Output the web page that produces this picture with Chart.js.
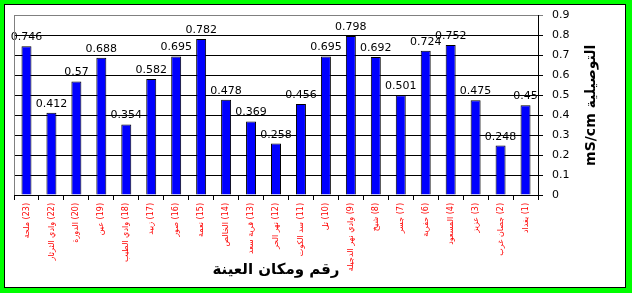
<!DOCTYPE html>
<html>
<head>
<meta charset="utf-8">
<script src="https://cdn.jsdelivr.net/npm/chart.js@4/dist/chart.umd.min.js"></script>
<style>
  html, body { margin: 0; padding: 0; background: #fff; }
  #wrap { width: 632px; height: 293px; }
</style>
</head>
<body>
<div id="wrap"><canvas id="chart" width="632" height="293" dir="rtl"></canvas></div>
<script>
// sample number + place, in display order
const categories = [
  '(23) ملحة', '(22) وادي الثرثار', '(20) الدورة', '(19) عين',
  '(18) وادي الطيب', '(17) زبيد', '(16) صور', '(15) نعمة',
  '(14) الخالص', '(13) قرية سعد', '(12) نهر الحر', '(11) سد الكوت',
  '(10) تل', '(9) وادي نهر الدجيلة', '(8) شيخ', '(7) جسر',
  '(6) حفرية', '(4) المسعود', '(3) عزيز', '(2) جصان غرب', '(1) بغداد'
];
const values = [
  0.746, 0.412, 0.57, 0.688, 0.354, 0.582, 0.695, 0.782, 0.478, 0.369, 0.258,
  0.456, 0.695, 0.798, 0.692, 0.501, 0.724, 0.752, 0.475, 0.248, 0.45
];
const yTicks = [0, 0.1, 0.2, 0.3, 0.4, 0.5, 0.6, 0.7, 0.8, 0.9];
const xTitle = 'رقم ومكان العينة';
const yTitle = 'التوصيلية mS/cm';

// green frame + white background
const framePlugin = {
  id: 'frame',
  beforeDraw(chart) {
    const ctx = chart.ctx;
    ctx.save();
    ctx.fillStyle = '#00ff00';
    ctx.fillRect(0, 0, chart.width, chart.height);
    ctx.fillStyle = '#000';
    ctx.fillRect(4, 4, chart.width - 10, chart.height - 9);
    ctx.fillStyle = '#fff';
    ctx.fillRect(5, 5, chart.width - 12, chart.height - 11);
    ctx.restore();
  },
  afterDraw(chart) {
    const ctx = chart.ctx;
    const a = chart.chartArea;
    ctx.save();
    // left plot border
    ctx.strokeStyle = '#808080';
    ctx.lineWidth = 1;
    ctx.beginPath();
    ctx.moveTo(a.left + 0.5, a.top);
    ctx.lineTo(a.left + 0.5, a.bottom);
    ctx.stroke();
    // axis titles
    ctx.fillStyle = '#000';
    ctx.font = 'bold 15px "DejaVu Sans", sans-serif';
    ctx.textAlign = 'center';
    ctx.textBaseline = 'middle';
    ctx.fillText(xTitle, (a.left + a.right) / 2, 270);
    ctx.translate(591, (a.top + a.bottom) / 2);
    ctx.rotate(-Math.PI / 2);
    ctx.font = 'bold 14px "DejaVu Sans", sans-serif';
    ctx.fillText(yTitle, 0, 0);
    ctx.restore();
  }
};

// value labels above bars
const valueLabels = {
  id: 'valueLabels',
  afterDatasetsDraw(chart) {
    const ctx = chart.ctx;
    const meta = chart.getDatasetMeta(0);
    ctx.save();
    ctx.fillStyle = '#000';
    ctx.font = '11px "DejaVu Sans", sans-serif';
    ctx.textAlign = 'center';
    ctx.textBaseline = 'alphabetic';
    meta.data.forEach((bar, i) => {
      ctx.fillText(String(values[i]), bar.x, bar.y - 6);
    });
    ctx.restore();
  }
};

new Chart(document.getElementById('chart'), {
  type: 'bar',
  data: {
    // RTL embedding so the number sits next to the axis
    labels: categories.map(s => '\u202B' + s + '\u202C'),
    datasets: [{
      data: values,
      backgroundColor: '#0000ff',
      borderColor: '#000',
      borderWidth: 1,
      barPercentage: 0.4,
      categoryPercentage: 1
    }]
  },
  options: {
    responsive: false,
    animation: false,
    devicePixelRatio: 1,
    layout: { padding: { left: 14, top: 15, right: 0, bottom: 0 } },
    plugins: {
      legend: { display: false },
      tooltip: { enabled: false }
    },
    scales: {
      x: {
        offset: true,
        grid: {
          display: true,
          offset: true,
          drawOnChartArea: false,
          drawTicks: true,
          tickLength: 5,
          color: '#000'
        },
        border: { color: '#000', width: 1 },
        ticks: {
          autoSkip: false,
          minRotation: 90,
          maxRotation: 90,
          padding: 3,
          color: '#ff0000',
          font: { family: '"DejaVu Sans", sans-serif', size: 8 }
        },
        afterFit: (s) => { s.height = 98; }
      },
      y: {
        position: 'right',
        min: 0,
        max: 0.9,
        afterBuildTicks: (s) => { s.ticks = yTicks.map(v => ({ value: v })); },
        grid: {
          color: (c) => (c.tick && c.tick.value === 0.9 ? '#808080' : '#000'),
          tickLength: 5
        },
        border: { color: '#000', width: 1 },
        ticks: {
          padding: 9,
          color: '#000',
          font: { family: '"DejaVu Sans", sans-serif', size: 11 },
          callback: (v) => String(v)
        },
        afterFit: (s) => { s.width = 94; }
      }
    }
  },
  plugins: [framePlugin, valueLabels]
});
</script>
</body>
</html>
